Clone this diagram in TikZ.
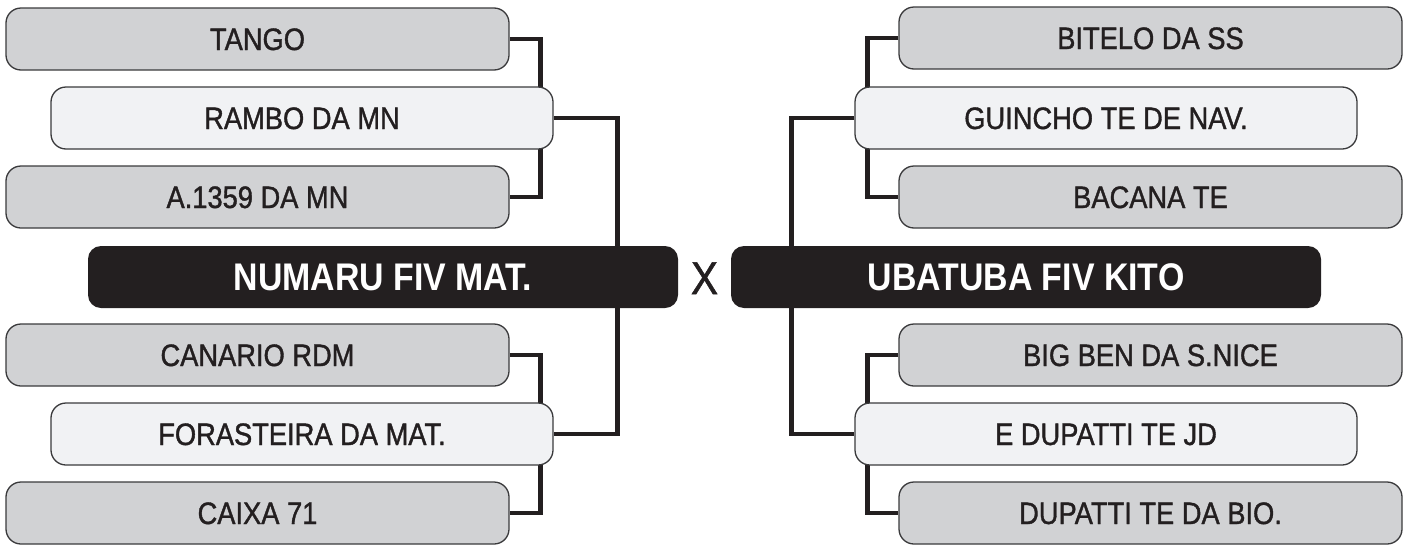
\documentclass[tikz,border=0pt]{standalone}
\usepackage{fontspec}
\setmainfont{Liberation Sans}[FakeStretch=0.88]
\newfontfamily\entryfont{Liberation Sans}[FakeStretch=0.88,FakeBold=1.2]
\usetikzlibrary{backgrounds}

\definecolor{brkink}{HTML}{231F20}
\definecolor{brkgray}{HTML}{D1D2D4}
\definecolor{brklight}{HTML}{F1F2F4}
\definecolor{brkedge}{HTML}{3A3A3C}

\tikzset{
  entry/.style={draw=brkedge,line width=1.3pt,rounded corners=15pt,
    minimum width=503pt,minimum height=62pt,inner sep=0pt,
    font=\entryfont\fontsize{31}{31}\selectfont,text=brkink,text height=22pt,text depth=0pt},
  seed/.style={entry,fill=brkgray},
  winner/.style={entry,fill=brklight,minimum width=502pt},
  finalist/.style={fill=brkink,rounded corners=13pt,minimum width=590pt,
    minimum height=62pt,inner sep=0pt,text=white,
    font=\bfseries\fontsize{38.5}{38.5}\selectfont,text height=27.5pt,text depth=0pt},
  bracket/.style={draw=brkink,line width=4.5pt}
}

\begin{document}
\begin{tikzpicture}[x=1pt,y=-1pt]
\useasboundingbox (0,0) rectangle (1410,544);
% left half
\node[seed] (tango) at (257.5,39) {TANGO};
\node[winner] (rambo) at (302,118) {RAMBO DA MN};
\node[seed] (a1359) at (257.5,197) {A.1359 DA MN};
\node[finalist] (numaru) at (383,277) {NUMARU FIV MAT.};
\node[seed] (canario) at (257.5,355) {CANARIO RDM};
\node[winner] (forast) at (302,434) {FORASTEIRA DA MAT.};
\node[seed] (caixa) at (257.5,513) {CAIXA 71};
\node[font=\entryfont\fontsize{46}{46}\selectfont,text=brkink,inner sep=0pt,
  text height=33pt,text depth=0pt] (versus) at (704.5,277.5) {X};
% right half
\node[seed] (bitelo) at (1150.5,38) {BITELO DA SS};
\node[winner] (guincho) at (1106,118) {GUINCHO TE DE NAV.};
\node[seed] (bacana) at (1150.5,197) {BACANA TE};
\node[finalist] (ubatuba) at (1026,277) {UBATUBA FIV KITO};
\node[seed] (bigben) at (1150.5,355) {BIG BEN DA S.NICE};
\node[winner] (edupatti) at (1106,434) {E DUPATTI TE JD};
\node[seed] (dupatti) at (1150.5,513) {DUPATTI TE DA BIO.};
% brackets behind the boxes
\begin{scope}[on background layer]
\draw[bracket] (tango.east) -- ++(31,0) |- (a1359.east);
\draw[bracket] (canario.east) -- ++(31,0) |- (caixa.east);
\draw[bracket] (rambo.east) -- ++(64,0) |- (forast.east);
\draw[bracket] (bitelo.west) -- ++(-31,0) |- (bacana.west);
\draw[bracket] (bigben.west) -- ++(-31,0) |- (dupatti.west);
\draw[bracket] (guincho.west) -- ++(-63,0) |- (edupatti.west);
\end{scope}
\end{tikzpicture}
\end{document}
